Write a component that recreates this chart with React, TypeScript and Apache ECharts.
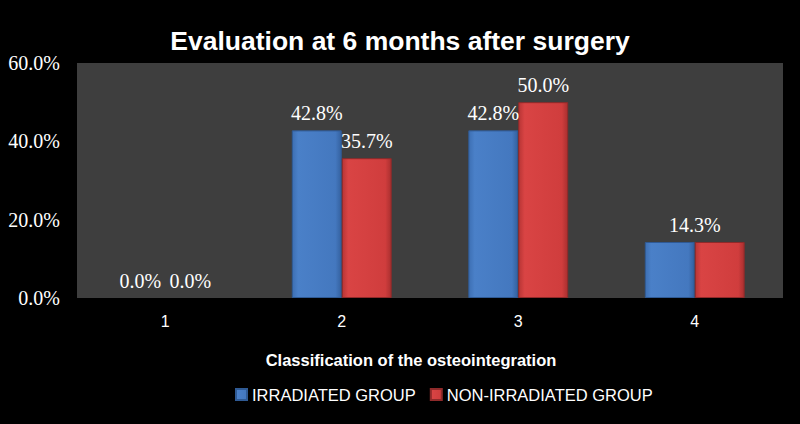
import React, { useEffect, useRef } from "react";
import * as echarts from "echarts";

const categories = ["1", "2", "3", "4"];
const irradiated = [0.0, 42.8, 42.8, 14.3];
const nonIrradiated = [0.0, 35.7, 50.0, 14.3];
const seriesNames = ["IRRADIATED GROUP", "NON-IRRADIATED GROUP"];
const titleText = "Evaluation at 6 months after surgery";
const xAxisTitle = "Classification of the osteointegration";

export default function App() {
  const ref = useRef<HTMLDivElement>(null);
  useEffect(() => {
    if (!ref.current) return;
    const chart = echarts.init(ref.current, null, { renderer: "svg" });
    const serif = "'Liberation Serif', 'DejaVu Serif', serif";
    const sans = "'Liberation Sans', Arial, sans-serif";
    const blueGrad = new echarts.graphic.LinearGradient(0, 0, 1, 0, [
      { offset: 0, color: "#3d6fb3" },
      { offset: 0.12, color: "#4a80c8" },
      { offset: 0.88, color: "#4478bf" },
      { offset: 1, color: "#34619f" },
    ]);
    const redGrad = new echarts.graphic.LinearGradient(0, 0, 1, 0, [
      { offset: 0, color: "#b83535" },
      { offset: 0.12, color: "#d94444" },
      { offset: 0.88, color: "#d03d3d" },
      { offset: 1, color: "#a92f2f" },
    ]);
    const fmt = (p: any) => Number(p.value).toFixed(1) + "%";
    const labelBase = {
      show: true,
      position: "top" as const,
      distance: 7,
      color: "#ffffff",
      fontFamily: serif,
      fontSize: 20,
      formatter: fmt,
    };
    const mk = (vals: number[], hideLast: boolean, shiftLast: boolean) =>
      vals.map((v, i) => {
        const item: any = { value: v };
        if (v === 0) item.itemStyle = { borderWidth: 0, color: "rgba(0,0,0,0)" };
        if (i === 3 && hideLast) item.label = { show: false };
        if (i === 3 && shiftLast) item.label = { show: true, offset: [25, 0] };
        return item;
      });
    chart.setOption({
      animation: false,
      backgroundColor: "#000000",
      title: {
        text: titleText,
        left: "center",
        top: 22,
        textStyle: { color: "#ffffff", fontFamily: sans, fontWeight: "bold", fontSize: 26.5 },
      },
      grid: {
        left: 77,
        right: 17,
        top: 63,
        bottom: 126,
        show: true,
        backgroundColor: "#3e3e3e",
        borderWidth: 0,
      },
      legend: {
        bottom: 16,
        left: 230,
        itemWidth: 11,
        itemHeight: 11,
        itemGap: 14,
        icon: "rect",
        textStyle: { color: "#ffffff", fontFamily: sans, fontSize: 16.5 },
        data: seriesNames,
      },
      xAxis: {
        type: "category",
        data: categories,
        name: xAxisTitle,
        nameLocation: "middle",
        nameGap: 53,
        nameTextStyle: {
          color: "#ffffff",
          fontFamily: sans,
          fontWeight: "bold",
          fontSize: 16.5,
          padding: [0, 38, 0, 0],
        },
        axisLine: { show: false },
        axisTick: { show: false },
        axisLabel: { color: "#ffffff", fontFamily: sans, fontSize: 16, margin: 15 },
      },
      yAxis: {
        type: "value",
        min: 0,
        max: 60,
        interval: 20,
        axisLine: { show: false },
        axisTick: { show: false },
        splitLine: { show: false },
        axisLabel: {
          color: "#ffffff",
          fontFamily: serif,
          fontSize: 20,
          margin: 17,
          formatter: (v: number) => v.toFixed(1) + "%",
        },
      },
      series: [
        {
          name: seriesNames[0],
          type: "bar",
          data: mk(irradiated, false, true),
          barWidth: "28.3%",
          barGap: "0%",
          itemStyle: { color: blueGrad, borderColor: "#2f5a94", borderWidth: 1 },
          label: labelBase,
        },
        {
          name: seriesNames[1],
          type: "bar",
          data: mk(nonIrradiated, true, false),
          barWidth: "28.3%",
          barGap: "0%",
          itemStyle: { color: redGrad, borderColor: "#8f2a2a", borderWidth: 1 },
          label: labelBase,
        },
      ],
    });
    return () => chart.dispose();
  }, []);
  return (
    <div
      ref={ref}
      style={{ position: "fixed", left: 0, top: 0, width: 800, height: 424 }}
    />
  );
}
